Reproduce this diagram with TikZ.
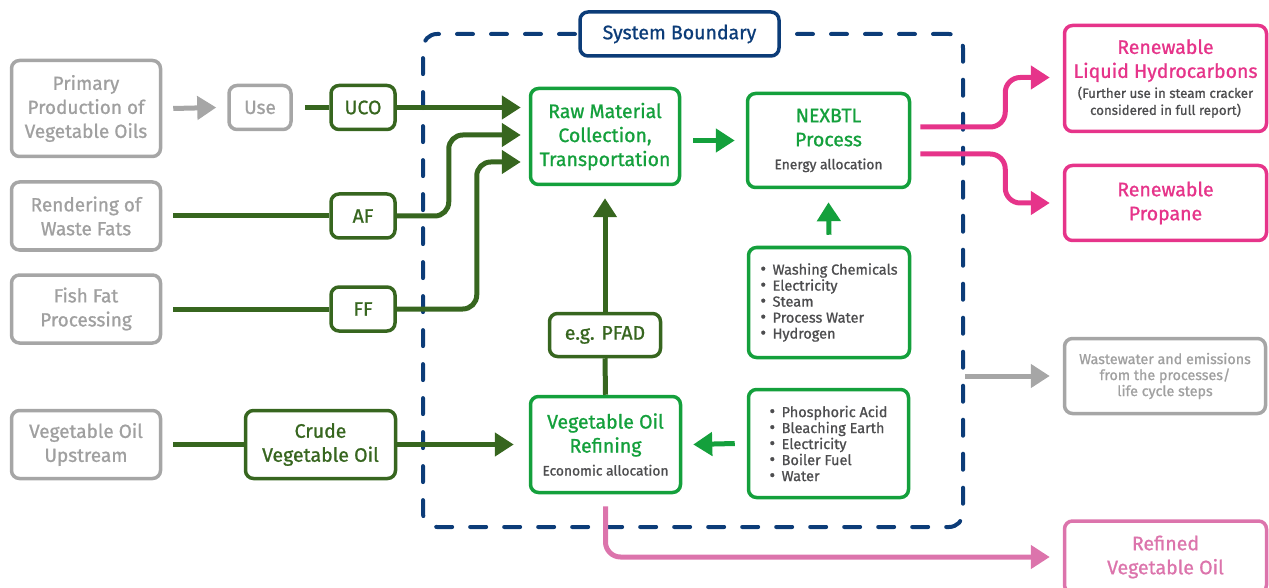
\documentclass[tikz,border=0pt]{standalone}
\usepackage{fontspec}
\setmainfont{Fira Sans}[FakeBold=1]
\usetikzlibrary{arrows.meta,calc}
\definecolor{grayc}{HTML}{A6A6A6}
\definecolor{graytx}{HTML}{A0A0A0}
\definecolor{dgreen}{HTML}{37661F}
\definecolor{bgreen}{HTML}{14A03C}
\definecolor{pinkc}{HTML}{E6348A}
\definecolor{lpink}{HTML}{DC74AC}
\definecolor{navy}{HTML}{0C3C78}
\definecolor{dtext}{HTML}{4D4D4F}
\newcommand{\fsz}[2]{\fontsize{#1}{#2}\selectfont}
\newcommand{\bul}{\scalebox{1.2}{\textbullet}\hspace{6.5pt}}
\begin{document}
\begin{tikzpicture}[x=1pt,y=-1pt,
 bx/.style={draw, line width=3.5pt, rounded corners=8pt, inner sep=2pt, align=center, fill=white},
 graybox/.style={bx, draw=grayc, text=graytx, font=\fsz{19}{24}},
 dgbox/.style={bx, draw=dgreen, text=dgreen, font=\fsz{19.5}{24}},
 gbox/.style={bx, draw=bgreen, text=bgreen, font=\fsz{19.5}{24}},
 listbox/.style={bx, draw=bgreen, text=dtext, align=left, font=\fsz{14.5}{16}},
 pbox/.style={bx, draw=pinkc, text=pinkc, font=\fsz{19.5}{24}},
 sbound/.style={draw=navy, line width=4pt, dash pattern=on 16pt off 18pt, line cap=round, rounded corners=14pt, minimum width=540pt, minimum height=493pt, inner sep=0pt},
 arr/.style={line width=5pt, -{Triangle[length=19pt,width=23pt]}},
 dgline/.style={line width=5pt, draw=dgreen},
]
\useasboundingbox (0,0) rectangle (1269,588);

% system boundary
\node[sbound] (sysb) at (693,280.5) {};
\node[draw=navy, line width=3.5pt, rounded corners=8pt, fill=white, text=navy, font=\fsz{19.5}{20}, minimum width=199pt, minimum height=44pt] (sbl) at (679.5,34) {System Boundary};

% left column
\node[graybox, minimum width=149pt, minimum height=96pt] (prim) at (86,108.5) {Primary\\Production of\\Vegetable Oils};
\node[graybox, minimum width=62pt, minimum height=44pt] (use) at (260,107.5) {Use};
\node[dgbox, minimum width=64pt, minimum height=44pt] (uco) at (363,107.5) {UCO};
\node[graybox, minimum width=149pt, minimum height=68pt] (rend) at (86,216) {Rendering of\\Waste Fats};
\node[dgbox, minimum width=64pt, minimum height=44pt] (af) at (363,216) {AF};
\node[graybox, minimum width=149pt, minimum height=68pt] (fish) at (86,309) {Fish Fat\\Processing};
\node[dgbox, minimum width=64pt, minimum height=44pt] (ff) at (363,309) {FF};
\node[graybox, minimum width=149pt, minimum height=68pt] (ups) at (86,444.5) {Vegetable Oil\\Upstream};
\node[dgbox, minimum width=150pt, minimum height=68pt] (crude) at (320.5,444.5) {Crude\\Vegetable Oil};

% centre
\node[gbox, minimum width=149pt, minimum height=96pt] (raw) at (605,136.5) {Raw Material\\Collection,\\Transportation};
\node[gbox, minimum width=162pt, minimum height=94pt] (nex) at (828.5,140.5) {NEXBTL\\Process\\[-1pt]\fsz{13.8}{16}\color{dtext}Energy allocation};
\node[dgbox, minimum width=111pt, minimum height=43pt] (pfad) at (605,335) {e.g. PFAD};
\node[gbox, minimum width=150pt, minimum height=96pt] (vor) at (605.5,444.5) {Vegetable Oil\\Refining\\[-1pt]\fsz{13.8}{16}\color{dtext}Economic allocation};
\node[listbox, minimum width=161pt, minimum height=110pt] (in1) at (829,302.5) {\bul Washing Chemicals\\\bul Electricity\\\bul Steam\\\bul Process Water\\\bul Hydrogen};
\node[listbox, minimum width=160pt, minimum height=108pt] (in2) at (828.5,443.5) {\bul Phosphoric Acid\\\bul Bleaching Earth\\\bul Electricity\\\bul Boiler Fuel\\\bul Water};

% right column
\node[pbox, minimum width=202pt, minimum height=106pt] (rlh) at (1165.5,78.5) {Renewable\\Liquid Hydrocarbons\\[-4pt]\fsz{13.3}{16}\color{dtext}(Further use in steam cracker\\[-7pt]\fsz{13.3}{16}\color{dtext}considered in full report)};
\node[pbox, minimum width=202pt, minimum height=75pt] (rp) at (1165.5,203) {Renewable\\Propane};
\node[graybox, font=\fsz{14.3}{16}, minimum width=201pt, minimum height=75pt] (ww) at (1165,376) {Wastewater and emissions\\from the processes/\\life cycle steps};
\node[bx, draw=lpink, text=lpink, font=\fsz{19.5}{24}, minimum width=202pt, minimum height=72pt] (rvo) at (1165.5,557) {Refined\\Vegetable Oil};

% connectors
\coordinate (rawin) at ($(raw.west)+(-8,0)$);
\draw[arr, grayc] ($(prim.east)+(11,0)$) -- ($(use.west)+(-11,0)$);
\draw[dgline] ($(use.east)+(12,0)$) -- (uco.west);
\draw[arr, dgreen] (uco.east) -- (uco.east -| rawin);
\draw[arr, dgreen, rounded corners=14pt] (af.east) -- ++(52,0) |- ($(rawin)+(0,-1.5)$);
\draw[arr, dgreen, rounded corners=14pt] (ff.east) -- ++(80,0) |- ($(rawin)+(0,25.5)$);
\draw[dgline] ($(rend.east)+(11,0)$) -- (af.west);
\draw[dgline] ($(fish.east)+(11,0)$) -- (ff.west);
\draw[dgline] ($(ups.east)+(11,0)$) -- (crude.west);
\draw[arr, dgreen] (crude.east) -- ($(vor.west)+(-15,0)$);
\draw[dgline] (vor.north) -- (pfad.south);
\draw[arr, dgreen] (pfad.north) -- ($(raw.south)+(0,12)$);
\draw[arr, bgreen] ($(raw.east |- nex.west)+(12,0)$) -- ($(nex.west)+(-11,0)$);
\draw[arr, bgreen] ($(in1.north)+(0,-11)$) -- ($(nex.south)+(0,13)$);
\draw[arr, bgreen] ($(in2.west)+(-12,0)$) -- ($(vor.east)+(11,0)$);
\draw[arr, pinkc, rounded corners=15pt] ($(nex.east)+(9,-13.5)$) -- ++(85,0) |- ($(rlh.west)+(-13,-1)$);
\draw[arr, pinkc, rounded corners=15pt] ($(nex.east)+(9,13.5)$) -- ++(85,0) |- ($(rp.west)+(-13,0)$);
\draw[arr, lpink, rounded corners=15pt] ($(vor.south)+(0,12)$) |- ($(rvo.west)+(-13,0)$);
\draw[arr, grayc] (sysb.east |- ww.west) -- ($(ww.west)+(-13,0)$);
\end{tikzpicture}
\end{document}
